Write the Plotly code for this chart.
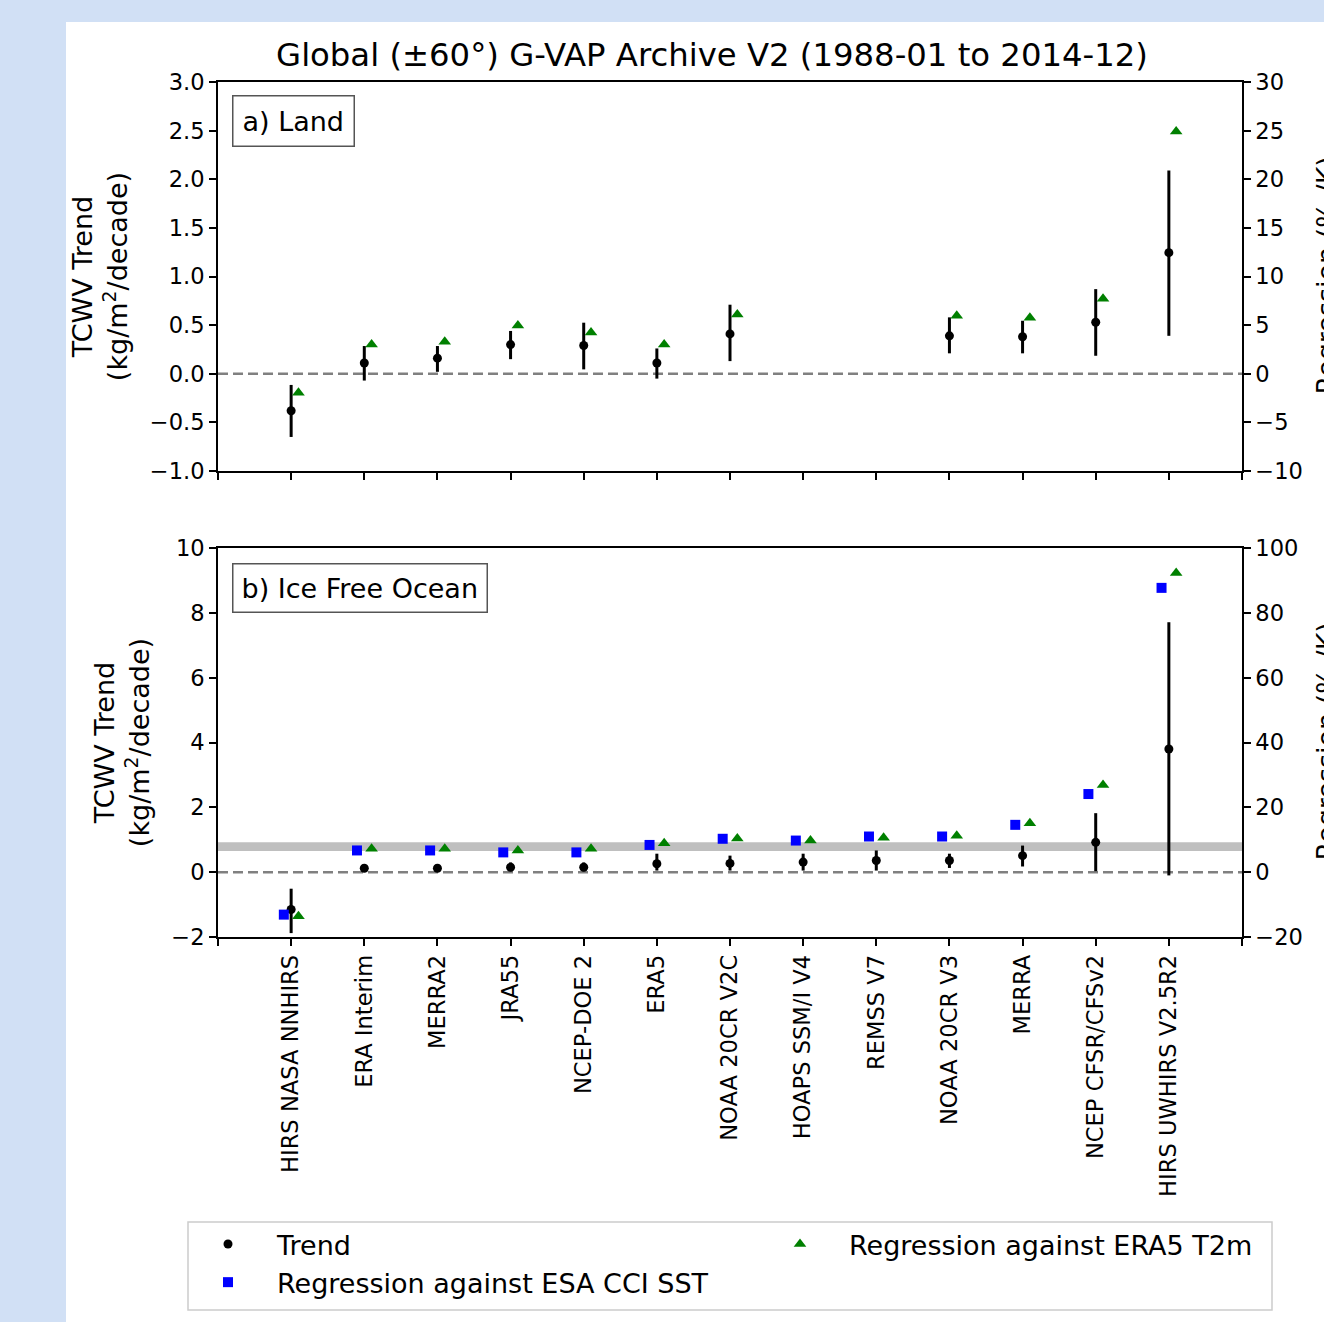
import numpy as np
import plotly.graph_objects as go

# ---------------- data ----------------
datasets = ["HIRS NASA NNHIRS", "ERA Interim", "MERRA2", "JRA55", "NCEP-DOE 2", "ERA5",
            "NOAA 20CR V2C", "HOAPS SSM/I V4", "REMSS V7", "NOAA 20CR V3", "MERRA",
            "NCEP CFSR/CFSv2", "HIRS UWHIRS V2.5R2"]

# a) Land  (trend in kg/m2/decade, regression in %/K)
land_trend = [-0.38, 0.11, 0.16, 0.30, 0.29, 0.11, 0.41, None, None, 0.39, 0.38, 0.53, 1.245]
land_lo = [-0.65, -0.07, 0.02, 0.15, 0.045, -0.05, 0.13, None, None, 0.21, 0.21, 0.185, 0.39]
land_hi = [-0.115, 0.285, 0.285, 0.44, 0.525, 0.26, 0.71, None, None, 0.58, 0.545, 0.87, 2.09]
land_reg_era5 = [-1.95, 3.0, 3.3, 4.95, 4.25, 3.0, 6.1, None, None, 5.97, 5.76, 7.72, 24.9]

# b) Ice Free Ocean
ocean_trend = [-1.15, 0.12, 0.12, 0.15, 0.15, 0.26, 0.27, 0.31, 0.36, 0.36, 0.51, 0.92, 3.80]
ocean_lo = [-1.88, 0.02, 0.02, 0.03, 0.03, 0.05, 0.05, 0.05, 0.05, 0.13, 0.175, 0.03, -0.10]
ocean_hi = [-0.51, 0.24, 0.24, 0.30, 0.30, 0.57, 0.51, 0.57, 0.67, 0.57, 0.82, 1.82, 7.71]
ocean_reg_sst = [-13.1, 6.7, 6.7, 6.1, 6.1, 8.4, 10.3, 9.75, 11.0, 11.0, 14.6, 24.1, 87.7]
ocean_reg_era5 = [-13.6, 7.2, 7.2, 6.7, 7.2, 8.9, 10.4, 9.8, 10.6, 11.2, 15.1, 26.9, 92.3]

# shaded reference band in the ocean panel (%/K)
band_lo, band_hi = 6.5, 9.2

title_text = "Global (±60°) G-VAP Archive V2 (1988-01 to 2014-12)"

# ---------------- layout geometry ----------------
W, H = 1324, 1322
L, R, T, B = 218, 82, 82, 385
PW = W - L - R
PH = H - T - B
FONT = "DejaVu Sans"
BG_BLUE = "#d1e0f5"


def px_x(px):
    return (px - L) / PW


def px_y(py):
    return (H - B - py) / PH


idx = np.arange(len(datasets))
off = 0.1


def err_up(c, hi):
    return [None if (a is None or b is None) else b - a for a, b in zip(c, hi)]


def err_dn(c, lo):
    return [None if (a is None or b is None) else a - b for a, b in zip(c, lo)]


fig = go.Figure()

marker_trend = dict(symbol="circle", color="black", size=9)
marker_sst = dict(symbol="square", color="#0000ff", size=10)
marker_era = dict(symbol="triangle-up", color="#008000", size=11)
errstyle = dict(type="data", symmetric=False, color="black", thickness=3, width=0)

# top panel
fig.add_trace(go.Scatter(x=idx, y=land_trend, mode="markers", marker=marker_trend,
                         error_y=dict(array=err_up(land_trend, land_hi),
                                      arrayminus=err_dn(land_trend, land_lo), **errstyle),
                         xaxis="x", yaxis="y", showlegend=False, name="Trend"))
fig.add_trace(go.Scatter(x=idx + off, y=land_reg_era5, mode="markers", marker=marker_era,
                         xaxis="x", yaxis="y2", showlegend=False,
                         name="Regression against ERA5 T2m"))

# bottom panel
fig.add_trace(go.Scatter(x=idx, y=ocean_trend, mode="markers", marker=marker_trend,
                         error_y=dict(array=err_up(ocean_trend, ocean_hi),
                                      arrayminus=err_dn(ocean_trend, ocean_lo), **errstyle),
                         xaxis="x2", yaxis="y3", name="Trend", legend="legend"))
fig.add_trace(go.Scatter(x=idx - off, y=ocean_reg_sst, mode="markers", marker=marker_sst,
                         xaxis="x2", yaxis="y4", name="Regression against ESA CCI SST",
                         legend="legend"))
fig.add_trace(go.Scatter(x=idx + off, y=ocean_reg_era5, mode="markers", marker=marker_era,
                         xaxis="x2", yaxis="y4", name="Regression against ERA5 T2m",
                         legend="legend2"))

tickfont = dict(family=FONT, size=22.6, color="black")
labfont = dict(family=FONT, size=27, color="black")
axcommon = dict(showline=True, linecolor="black", linewidth=1.6, ticks="outside",
                ticklen=7, tickwidth=1.5, tickcolor="black", showgrid=False,
                zeroline=False, tickfont=tickfont)
corner_ticks = dict(tickvals=[-1, len(datasets)], ticks="outside", ticklen=7,
                    tickwidth=1.5, tickcolor="black", showgrid=False)

xtickvals = list(range(len(datasets)))
top_dom = [px_y(471), px_y(82)]
bot_dom = [px_y(937), px_y(548)]

fig.update_layout(
    width=W, height=H,
    margin=dict(l=L, r=R, t=T, b=B, autoexpand=False),
    paper_bgcolor=BG_BLUE, plot_bgcolor="white",
    font=dict(family=FONT, color="black"),
    title=dict(text=title_text, font=dict(family=FONT, size=32.3, color="black"),
               xref="paper", x=px_x(712), xanchor="center",
               yref="container", y=1 - 55 / H, yanchor="middle"),
    xaxis=dict(domain=[0, 1], range=[-1, 13], anchor="y", mirror=True,
               tickvals=xtickvals, ticktext=datasets, showticklabels=False,
               minor=corner_ticks, **axcommon),
    yaxis=dict(domain=top_dom, range=[-1, 3], anchor="x", tickvals=[-1, -0.5, 0, 0.5, 1, 1.5, 2, 2.5, 3],
               tickformat=".1f", automargin=True,
               title=dict(text="TCWV Trend<br>(kg/m<sup>2</sup>/decade)", font=labfont, standoff=14),
               **axcommon),
    yaxis2=dict(range=[-10, 30], overlaying="y", side="right", anchor="x",
                tickvals=list(range(-10, 31, 5)), **axcommon),
    xaxis2=dict(domain=[0, 1], range=[-1, 13], anchor="y3", mirror=True, tickangle=-90,
                tickvals=xtickvals, ticktext=datasets, automargin=False,
                minor=corner_ticks, **axcommon),
    yaxis3=dict(domain=bot_dom, range=[-2, 10], anchor="x2", tickvals=list(range(-2, 11, 2)),
                automargin=True,
                title=dict(text="TCWV Trend<br>(kg/m<sup>2</sup>/decade)", font=labfont, standoff=14),
                **axcommon),
    yaxis4=dict(range=[-20, 100], overlaying="y3", side="right", anchor="x2",
                tickvals=list(range(-20, 101, 20)), **axcommon),
    legend=dict(x=px_x(179), y=px_y(1220), xanchor="left", yanchor="top",
                orientation="v", bgcolor="rgba(0,0,0,0)", borderwidth=0,
                font=dict(family=FONT, size=27, color="black"), itemwidth=88,
                tracegroupgap=0),
    legend2=dict(x=px_x(751), y=px_y(1220), xanchor="left", yanchor="top",
                 orientation="v", bgcolor="rgba(0,0,0,0)", borderwidth=0,
                 font=dict(family=FONT, size=27, color="black"), itemwidth=88),
)

shapes = [
    # white figure area over the blue page
    dict(type="rect", xref="paper", yref="paper", x0=px_x(66), x1=px_x(W + 20),
         y0=px_y(H + 20), y1=px_y(22), fillcolor="white", line=dict(width=0), layer="below"),
    # reference band (ocean)
    dict(type="rect", xref="x2 domain", yref="y4", x0=0, x1=1, y0=band_lo, y1=band_hi,
         fillcolor="#bfbfbf", line=dict(width=0), layer="below"),
    # zero lines
    dict(type="line", xref="x domain", yref="y", x0=0, x1=1, y0=0, y1=0,
         line=dict(color="#808080", width=2.5, dash="10px,5px"), layer="below"),
    dict(type="line", xref="x2 domain", yref="y3", x0=0, x1=1, y0=0, y1=0,
         line=dict(color="#808080", width=2.5, dash="10px,5px"), layer="below"),
    # legend frame
    dict(type="rect", xref="paper", yref="paper", x0=px_x(188), x1=px_x(1272),
         y0=px_y(1310), y1=px_y(1222), fillcolor="white",
         line=dict(color="#cccccc", width=1.5), layer="above"),
]
fig.update_layout(shapes=shapes)

annotations = [
    dict(text="a) Land", xref="paper", yref="paper", x=px_x(232), y=px_y(95),
         xanchor="left", yanchor="top", showarrow=False, font=labfont,
         bordercolor="#555555", borderwidth=1.5, borderpad=9, bgcolor="white"),
    dict(text="b) Ice Free Ocean", xref="paper", yref="paper", x=px_x(232), y=px_y(563),
         xanchor="left", yanchor="top", showarrow=False, font=labfont,
         bordercolor="#555555", borderwidth=1.5, borderpad=8, bgcolor="white"),
    dict(text="Regression (% /K)", xref="paper", yref="paper", x=px_x(1308), y=px_y(276),
         xanchor="left", yanchor="middle", textangle=-90, showarrow=False, font=labfont),
    dict(text="Regression (% /K)", xref="paper", yref="paper", x=px_x(1308), y=px_y(742),
         xanchor="left", yanchor="middle", textangle=-90, showarrow=False, font=labfont),
]
fig.update_layout(annotations=annotations)

fig.write_html("out.html", config={"displayModeBar": False},
               post_script="document.body.style.margin='0';"
                           "document.body.style.background='" + BG_BLUE + "';"
                           "document.body.style.overflow='hidden';")
